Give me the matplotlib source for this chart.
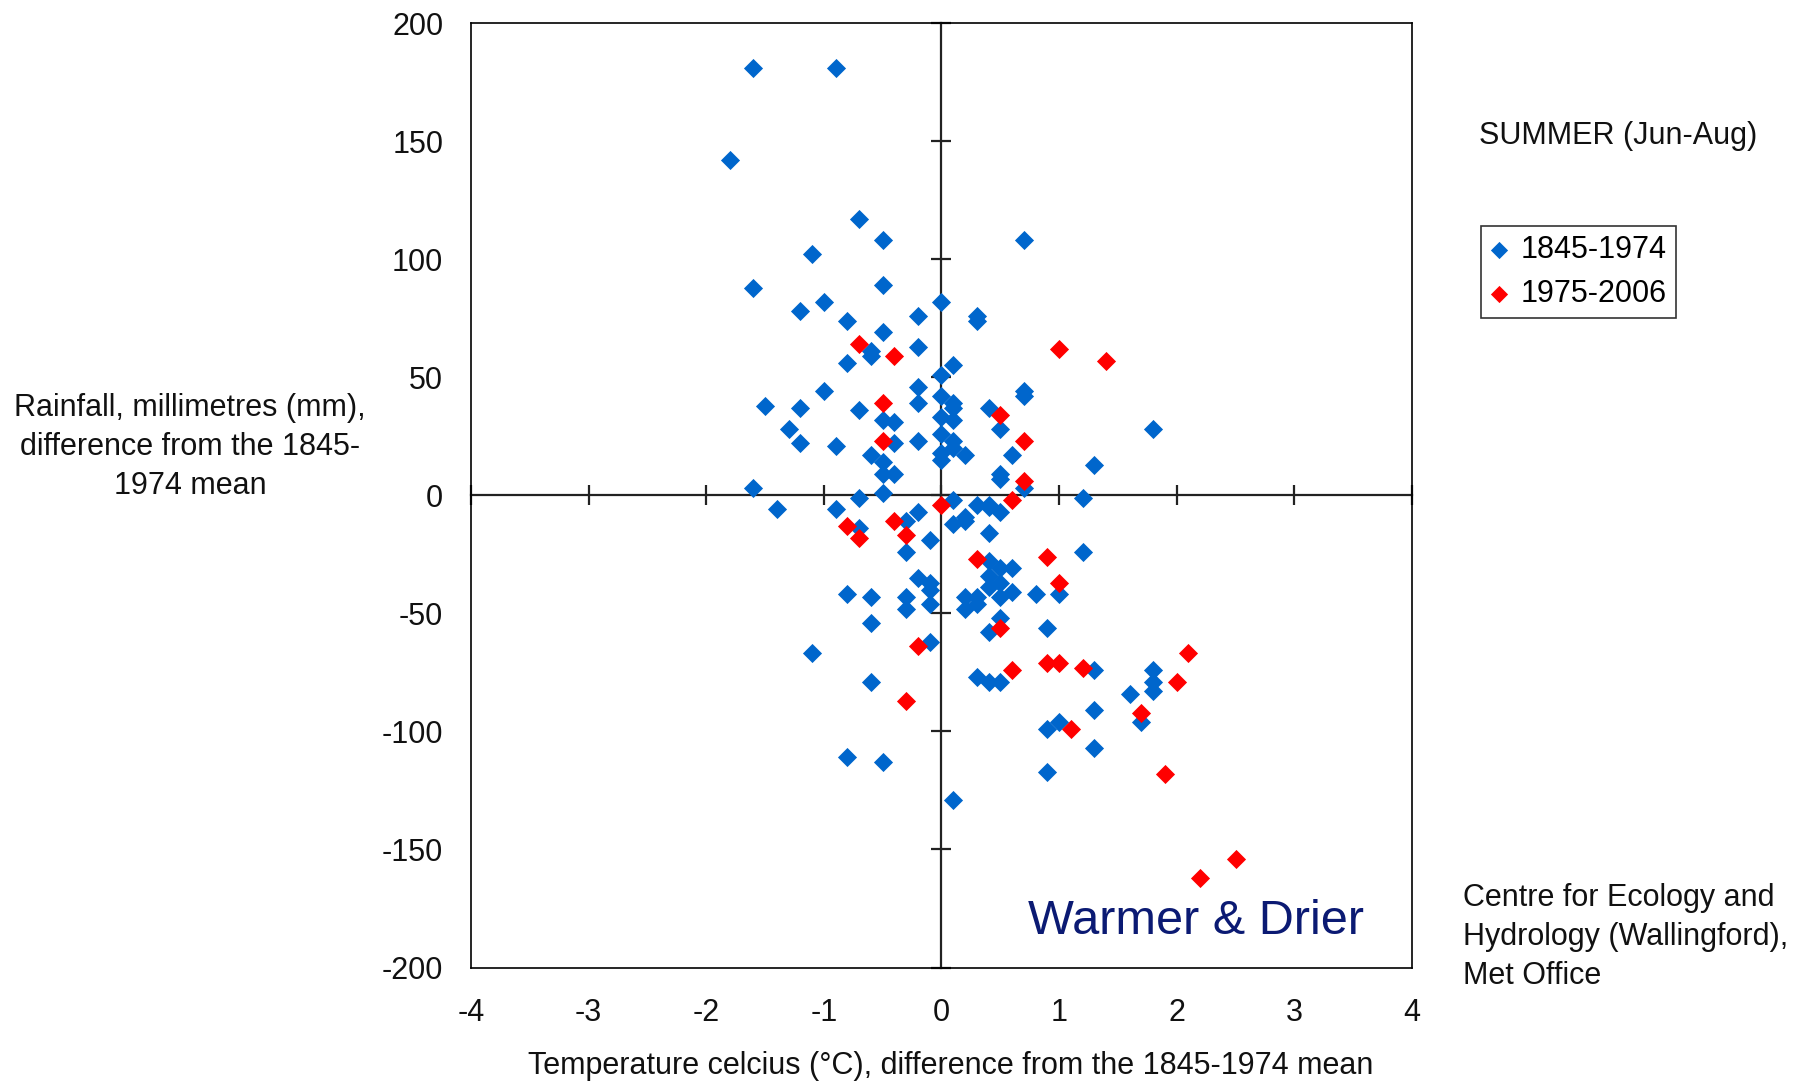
import matplotlib
matplotlib.use("Agg")
import matplotlib.pyplot as plt

plt.rcParams['font.family'] = ['Liberation Sans', 'DejaVu Sans']
plt.rcParams['axes.unicode_minus'] = False

# temperature (deg C) and rainfall (mm) anomalies, summer
temp_early = [-1.6, -0.9, -1.8, -0.7, -0.5, 0.7, -1.1, -1.6, -0.5, -1.0,
              0.0, -1.2, -0.2, 0.3, 0.3, -0.8, -0.5, -0.2, -0.6, -0.6,
              -0.8, 0.1, 0.0, -1.0, -0.2, -0.2, -1.5, -1.2, -0.7, 0.0,
              0.1, 0.1, 0.4, 0.7, 0.7, -0.5, -0.4, 0.0, 0.1, -1.3,
              0.5, 1.8, -1.2, -0.9, -0.4, -0.2, 0.0, 0.1, 0.1, 0.0,
              0.0, 0.2, 0.6, -0.6, -0.5, -0.5, -0.4, 1.3, 0.5, 0.5,
              0.7, -1.6, -0.5, -0.7, 1.2, 0.1, 0.3, 0.4, 0.4, 0.5,
              -1.4, -0.9, -0.2, 0.2, -0.7, -0.3, 0.1, 0.2, 0.4, -0.1,
              -0.3, 1.2, 0.4, 0.5, 0.6, 0.4, 0.5, 0.6, 0.5, 0.4,
              -0.2, -0.1, -0.1, -0.8, -0.6, -0.3, -0.3, -0.1, 0.2, 0.3,
              0.2, 0.3, 0.8, 1.0, 0.5, 0.4, 0.9, -0.6, -0.1, -1.1,
              0.3, 0.4, 0.5, -0.6, 1.3, 1.8, 1.8, 1.8, 1.6, 1.3,
              1.7, 1.0, 0.9, 1.3, 0.9, -0.8, -0.5, 0.1]
rain_early = [181, 181, 142, 117, 108, 108, 102, 88, 89, 82,
              82, 78, 76, 76, 74, 74, 69, 63, 61, 59,
              56, 55, 51, 44, 46, 39, 38, 37, 36, 42,
              39, 37, 37, 44, 42, 32, 31, 33, 32, 28,
              28, 28, 22, 21, 22, 23, 26, 23, 20, 18,
              15, 17, 17, 17, 14, 9, 9, 13, 9, 7,
              3, 3, 1, -1, -1, -2, -4, -4, -5, -7,
              -6, -6, -7, -9, -14, -11, -12, -11, -16, -19,
              -24, -24, -28, -31, -31, -34, -37, -41, -43, -39,
              -35, -37, -40, -42, -43, -43, -48, -46, -43, -43,
              -48, -46, -42, -42, -52, -58, -56, -54, -62, -67,
              -77, -79, -79, -79, -74, -74, -79, -83, -84, -91,
              -96, -96, -99, -107, -117, -111, -113, -129]

temp_late = [-0.7, -0.4, -0.5, 0.5, 1.0, 1.4, 0.7, -0.5, 0.7, 0.6,
             0.0, -0.8, -0.7, -0.4, -0.3, 0.3, 0.9, 1.0, 0.5, -0.2,
             0.6, 0.9, 1.0, 1.2, 2.1, 2.0, 1.7, 1.1, -0.3, 1.9,
             2.2, 2.5]
rain_late = [64, 59, 39, 34, 62, 57, 23, 23, 6, -2,
             -4, -13, -18, -11, -17, -27, -26, -37, -56, -64,
             -74, -71, -71, -73, -67, -79, -92, -99, -87, -118,
             -162, -154]

x_ticks = [-4, -3, -2, -1, 0, 1, 2, 3, 4]
y_ticks = [-200, -150, -100, -50, 0, 50, 100, 150, 200]

fig = plt.figure(figsize=(18.06, 10.82), dpi=100)
ax = fig.add_axes([0.2608, 0.1058, 0.5210, 0.8729])

ax.scatter(temp_early, rain_early, marker='D', s=95, color='#0066cc',
           linewidths=0, label='1845-1974', zorder=3)
ax.scatter(temp_late, rain_late, marker='D', s=95, color='#ff0000',
           linewidths=0, label='1975-2006', zorder=4)

ax.set_xlim(-4, 4)
ax.set_ylim(-200, 200)
ax.set_xticks(x_ticks)
ax.set_yticks(y_ticks)
ax.tick_params(length=0, labelsize=22, colors='#111111')
ax.tick_params(axis='y', pad=20)
ax.tick_params(axis='x', pad=22)
for s in ax.spines.values():
    s.set_linewidth(1.2)
    s.set_color('black')

# cross axes through the origin, with ticks
ax2 = fig.add_axes(ax.get_position(), sharex=ax, sharey=ax, facecolor='none')
ax2.spines['top'].set_visible(False)
ax2.spines['right'].set_visible(False)
ax2.spines['left'].set_position(('data', 0))
ax2.spines['bottom'].set_position(('data', 0))
ax2.spines['left'].set_linewidth(1.6)
ax2.spines['bottom'].set_linewidth(1.6)
ax2.spines['left'].set_color('#222222')
ax2.spines['bottom'].set_color('#222222')
ax2.tick_params(direction='inout', length=15, width=1.6, color='#222222',
                labelleft=False, labelbottom=False)
ax2.set_zorder(2)
ax.set_zorder(3)
ax.patch.set_visible(False)

fig.text(190/1806, 1-447/1082,
         "Rainfall, millimetres (mm),\ndifference from the 1845-\n1974 mean",
         ha='center', va='center', fontsize=22, linespacing=1.4, color='#111111')
fig.text(951/1806, 1-1066/1082,
         "Temperature celcius (\u00b0C), difference from the 1845-1974 mean",
         ha='center', va='center', fontsize=22, color='#111111')
fig.text(1479/1806, 1-136/1082, "SUMMER (Jun-Aug)",
         ha='left', va='center', fontsize=22, color='#111111')
fig.text(1463/1806, 1-937/1082,
         "Centre for Ecology and\nHydrology (Wallingford),\nMet Office",
         ha='left', va='center', fontsize=22, linespacing=1.4, color='#111111')
fig.text(1196/1806, 1-921/1082, "Warmer & Drier",
         ha='center', va='center', fontsize=35, color='#0b1a73')

leg = ax.legend(loc='upper left', bbox_to_anchor=(1481/1806, 1-226/1082),
                bbox_transform=fig.transFigure, fontsize=22, frameon=True,
                fancybox=False, edgecolor='black', handlelength=0.6,
                handletextpad=0.4, borderpad=0.3, labelspacing=0.45,
                markerscale=0.9, borderaxespad=0)
leg.get_frame().set_linewidth(1.2)

fig.savefig("out.png", dpi=100)
